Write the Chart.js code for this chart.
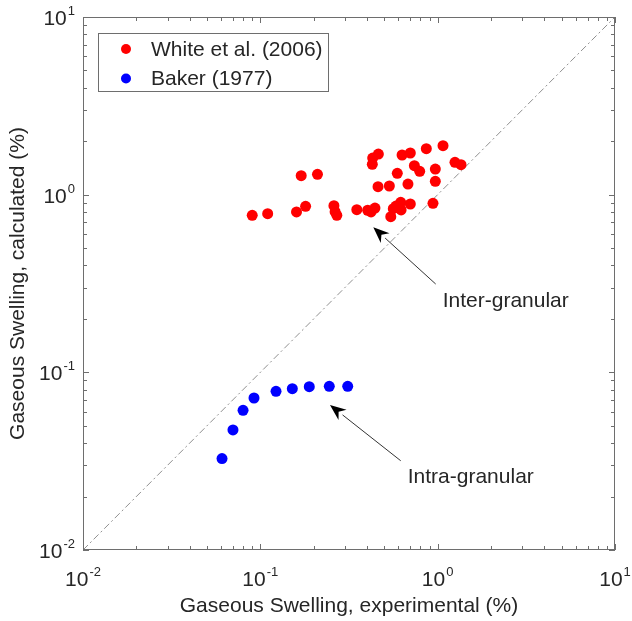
<!DOCTYPE html>
<html>
<head>
<meta charset="utf-8">
<script src="https://cdn.jsdelivr.net/npm/chart.js@4"></script>
<style>
  html, body { margin: 0; padding: 0; background: #fff; }
  #wrap { width: 632px; height: 621px; }
</style>
</head>
<body>
<div id="wrap"><canvas id="chart" width="632" height="621"></canvas></div>
<script>
// White et al. (2006) - inter-granular swelling, experimental vs calculated (%)
const whiteExp = [0.090, 0.110, 0.160, 0.180, 0.170, 0.210, 0.260, 0.264, 0.270, 0.350,
                  0.403, 0.421, 0.443, 0.461, 0.534, 0.428, 0.430, 0.463, 0.544, 0.562,
                  0.582, 0.619, 0.622, 0.701, 0.592, 0.680, 0.630, 0.701, 0.739, 0.792,
                  0.863, 0.970, 0.970, 0.941, 1.072, 1.252, 1.354];
const whiteCalc = [0.765, 0.782, 0.799, 0.860, 1.279, 1.302, 0.867, 0.802, 0.765, 0.823,
                   0.817, 0.799, 0.841, 1.109, 1.119, 1.482, 1.608, 1.693, 0.752, 0.834,
                   0.863, 0.906, 0.820, 0.886, 1.319, 1.148, 1.672, 1.716, 1.455, 1.354,
                   1.814, 1.394, 1.189, 0.894, 1.886, 1.521, 1.475];

// Baker (1977) - intra-granular
const bakerExp = [0.0608, 0.0701, 0.0799, 0.0921, 0.1226, 0.1515, 0.1888, 0.2448, 0.311];
const bakerCalc = [0.0327, 0.0474, 0.0611, 0.0717, 0.0782, 0.0809, 0.0830, 0.0834, 0.0834];

// y = x reference line
const diagLine = [0.01, 10];

// decade exponents for the tick labels
const tickExps = [-2, -1, 0, 1];

// annotations: [label, text x, text y, arrow tail x, tail y, arrow tip x, tip y]
const notes = [
  ['Inter-granular', 1.068, 0.232, 0.975, 0.314, 0.4335, 0.655],
  ['Intra-granular', 0.678, 0.0237, 0.619, 0.0318, 0.247, 0.0655]
];

const FONT = "'Liberation Sans', Arial, Helvetica, sans-serif";
const TXT = '#262626';
const AXIS = '#6e6e6e';

const toPts = (xs, ys) => xs.map((x, i) => ({x: x, y: ys[i]}));

const frame = {
  id: 'frame',
  afterDraw(chart) {
    const ctx = chart.ctx;
    const {left, right, top, bottom} = chart.chartArea;
    const xs = chart.scales.x, ys = chart.scales.y;
    ctx.save();

    // box
    ctx.strokeStyle = AXIS;
    ctx.lineWidth = 1;
    ctx.strokeRect(left + 0.5, top + 0.5, right - left - 1, bottom - top - 1);

    // major and minor ticks, pointing inward on all sides
    ctx.beginPath();
    for (let d = -2; d <= 1; d++) {
      for (let m = 1; m <= 9; m++) {
        if (d === 1 && m > 1) break;
        const v = m * Math.pow(10, d);
        const len = m === 1 ? 6 : 4;
        const px = Math.round(xs.getPixelForValue(v)) + 0.5;
        const py = Math.round(ys.getPixelForValue(v)) + 0.5;
        ctx.moveTo(px, bottom); ctx.lineTo(px, bottom - len);
        ctx.moveTo(px, top); ctx.lineTo(px, top + len);
        ctx.moveTo(left, py); ctx.lineTo(left + len, py);
        ctx.moveTo(right, py); ctx.lineTo(right - len, py);
      }
    }
    ctx.stroke();

    // tick labels 10^n
    ctx.fillStyle = TXT;
    ctx.textBaseline = 'alphabetic';
    ctx.textAlign = 'left';
    tickExps.forEach(e => {
      const v = Math.pow(10, e);
      const exp = e < 0 ? '-' + (-e) : String(e);
      ctx.font = '21px ' + FONT;
      const w1 = ctx.measureText('10').width;
      ctx.font = '13px ' + FONT;
      const w2 = ctx.measureText(exp).width;
      const w = w1 + w2 + 1;

      // x axis
      let x0 = xs.getPixelForValue(v) - w / 2;
      ctx.font = '21px ' + FONT;
      ctx.fillText('10', x0, bottom + 36);
      ctx.font = '13px ' + FONT;
      ctx.fillText(exp, x0 + w1 + 1, bottom + 26);

      // y axis
      const py = ys.getPixelForValue(v);
      x0 = left - 8 - w;
      ctx.font = '21px ' + FONT;
      ctx.fillText('10', x0, py + 8);
      ctx.font = '13px ' + FONT;
      ctx.fillText(exp, x0 + w1 + 1, py - 2);
    });

    // annotations with arrows
    ctx.font = '21px ' + FONT;
    notes.forEach(n => {
      const tx = xs.getPixelForValue(n[1]), ty = ys.getPixelForValue(n[2]);
      ctx.fillStyle = TXT;
      ctx.fillText(n[0], tx, ty);
      const ax = xs.getPixelForValue(n[3]), ay = ys.getPixelForValue(n[4]);
      const bx = xs.getPixelForValue(n[5]), by = ys.getPixelForValue(n[6]);
      const ang = Math.atan2(by - ay, bx - ax);
      const hl = 16, hw = 6.5;
      const baseX = bx - hl * Math.cos(ang), baseY = by - hl * Math.sin(ang);
      ctx.strokeStyle = '#333';
      ctx.lineWidth = 1;
      ctx.beginPath();
      ctx.moveTo(ax, ay);
      ctx.lineTo(baseX, baseY);
      ctx.stroke();
      ctx.fillStyle = '#000';
      ctx.beginPath();
      ctx.moveTo(bx, by);
      ctx.lineTo(baseX + hw * Math.sin(ang), baseY - hw * Math.cos(ang));
      ctx.lineTo(bx - (hl - 5) * Math.cos(ang), by - (hl - 5) * Math.sin(ang));
      ctx.lineTo(baseX - hw * Math.sin(ang), baseY + hw * Math.cos(ang));
      ctx.closePath();
      ctx.fill();
    });

    // legend box inside the axes
    const lx = left + 15, ly = top + 16, lw = 230, lh = 58;
    ctx.fillStyle = '#fff';
    ctx.fillRect(lx, ly, lw, lh);
    ctx.strokeStyle = AXIS;
    ctx.strokeRect(lx + 0.5, ly + 0.5, lw, lh);
    ctx.textBaseline = 'middle';
    chart.data.datasets.slice(0, 2).forEach((ds, i) => {
      const cy = ly + 16 + i * 29.5;
      ctx.fillStyle = ds.backgroundColor;
      ctx.beginPath();
      ctx.arc(lx + 28, cy, 5, 0, Math.PI * 2);
      ctx.fill();
      ctx.fillStyle = TXT;
      ctx.font = '21px ' + FONT;
      ctx.fillText(ds.label, lx + 53, cy + 1);
    });
    ctx.restore();
  }
};

const logAxis = (title, pad, fitFn) => ({
  type: 'logarithmic',
  min: 0.01,
  max: 10,
  grid: {display: false},
  border: {display: false},
  ticks: {display: false},
  title: {display: true, text: title, color: TXT, font: {family: FONT, size: 21}, padding: pad},
  afterFit: fitFn
});

new Chart(document.getElementById('chart'), {
  type: 'scatter',
  data: {
    datasets: [
      {
        label: 'White et al. (2006)',
        data: toPts(whiteExp, whiteCalc),
        backgroundColor: '#ff0000',
        borderColor: '#ff0000',
        pointRadius: 5.5,
        pointBorderWidth: 0
      },
      {
        label: 'Baker (1977)',
        data: toPts(bakerExp, bakerCalc),
        backgroundColor: '#0000ff',
        borderColor: '#0000ff',
        pointRadius: 5.5,
        pointBorderWidth: 0
      },
      {
        label: 'y = x',
        data: toPts(diagLine, diagLine),
        showLine: true,
        pointRadius: 0,
        borderColor: '#8f8f8f',
        borderWidth: 1,
        borderDash: [7, 3, 2, 3]
      }
    ]
  },
  options: {
    responsive: false,
    animation: false,
    devicePixelRatio: 1,
    layout: {padding: {top: 17, right: 17, left: 0, bottom: 0}},
    plugins: {legend: {display: false}, tooltip: {enabled: false}},
    scales: {
      x: logAxis('Gaseous Swelling, experimental (%)', {top: 0, bottom: 2}, s => { s.height = 71; }),
      y: logAxis('Gaseous Swelling, calculated (%)', {top: 6, bottom: 0}, s => { s.width = 83; })
    }
  },
  plugins: [frame]
});
</script>
</body>
</html>
